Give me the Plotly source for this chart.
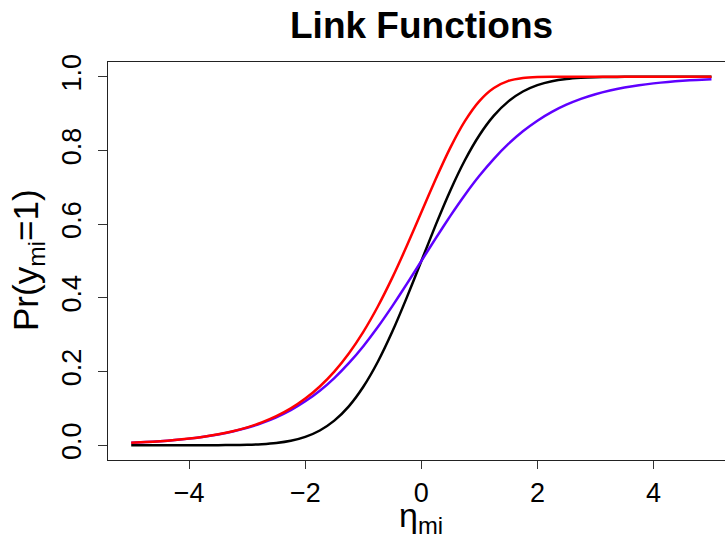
import plotly.graph_objects as go

# linear predictor grid
eta = [-5.0, -4.75, -4.5, -4.25, -4.0, -3.75, -3.5, -3.25, -3.0, -2.75,
       -2.5, -2.25, -2.0, -1.75, -1.5, -1.25, -1.0, -0.75, -0.5, -0.25,
       0.0, 0.25, 0.5, 0.75, 1.0, 1.25, 1.5, 1.75, 2.0, 2.25,
       2.5, 2.75, 3.0, 3.25, 3.5, 3.75, 4.0, 4.25, 4.5, 4.75, 5.0]

# probit link (black)
probit = [0.0000, 0.0000, 0.0000, 0.0000, 0.0000, 0.0001, 0.0002, 0.0006, 0.0013, 0.0030,
          0.0062, 0.0122, 0.0228, 0.0401, 0.0668, 0.1056, 0.1587, 0.2266, 0.3085, 0.4013,
          0.5000, 0.5987, 0.6915, 0.7734, 0.8413, 0.8944, 0.9332, 0.9599, 0.9772, 0.9878,
          0.9938, 0.9970, 0.9987, 0.9994, 0.9998, 0.9999, 1.0000, 1.0000, 1.0000, 1.0000, 1.0000]

# logit link (blue)
logit = [0.0067, 0.0086, 0.0110, 0.0141, 0.0180, 0.0230, 0.0293, 0.0373, 0.0474, 0.0601,
         0.0759, 0.0953, 0.1192, 0.1480, 0.1824, 0.2227, 0.2689, 0.3208, 0.3775, 0.4378,
         0.5000, 0.5622, 0.6225, 0.6792, 0.7311, 0.7773, 0.8176, 0.8520, 0.8808, 0.9047,
         0.9241, 0.9399, 0.9526, 0.9627, 0.9707, 0.9770, 0.9820, 0.9859, 0.9890, 0.9914, 0.9933]

# complementary log-log link (red)
cloglog = [0.0067, 0.0086, 0.0110, 0.0142, 0.0182, 0.0232, 0.0297, 0.0380, 0.0486, 0.0619,
           0.0788, 0.1000, 0.1266, 0.1595, 0.2000, 0.2491, 0.3078, 0.3765, 0.4548, 0.5411,
           0.6321, 0.7231, 0.8077, 0.8796, 0.9340, 0.9695, 0.9887, 0.9968, 0.9994, 0.9999,
           1.0000, 1.0000, 1.0000, 1.0000, 1.0000, 1.0000, 1.0000, 1.0000, 1.0000, 1.0000, 1.0000]

x_ticks = [-4, -2, 0, 2, 4]
y_ticks = [0.0, 0.2, 0.4, 0.6, 0.8, 1.0]
y_tick_text = ["0.0", "0.2", "0.4", "0.6", "0.8", "1.0"]

FONT = "Liberation Sans, Arial, sans-serif"
W, H = 725, 536
M_L, M_R, M_T, M_B = 108, 0, 62, 76

fig = go.Figure()
for ys, col in [(probit, "#000000"), (logit, "#5f00ff"), (cloglog, "#ff0000")]:
    fig.add_trace(go.Scatter(
        x=eta, y=ys, mode="lines",
        line=dict(color=col, width=2.5, shape="spline", smoothing=0.6),
        hoverinfo="skip", showlegend=False,
    ))

fig.update_layout(
    width=W, height=H,
    margin=dict(l=M_L, r=M_R, t=M_T, b=M_B),
    paper_bgcolor="white", plot_bgcolor="white",
    font=dict(family=FONT, color="black"),
    xaxis=dict(
        range=[-5.4, 5.233], tickmode="array", tickvals=x_ticks,
        ticks="outside", ticklen=8, tickwidth=1, tickcolor="#333333",
        tickfont=dict(size=27, family=FONT), ticklabelstandoff=1,
        showline=True, linecolor="#222222", linewidth=1, mirror=True,
        showgrid=False, zeroline=False,
    ),
    yaxis=dict(
        range=[-0.04, 1.04], tickmode="array", tickvals=y_ticks, ticktext=y_tick_text,
        ticks="outside", ticklen=9, tickwidth=1, tickcolor="#333333",
        tickfont=dict(size=27, family=FONT), tickangle=-90, ticklabelstandoff=6,
        showline=True, linecolor="#222222", linewidth=1, mirror=False,
        showgrid=False, zeroline=False,
    ),
)

# title and axis labels placed in pixel terms relative to the plot area
plot_h = H - M_T - M_B
plot_w = W - M_L - M_R

def py(px):
    return (H - M_B - px) / plot_h

def px_x(px):
    return (px - M_L) / plot_w

fig.add_annotation(
    text="<b>Link Functions</b>", x=0, xref="x", y=py(25), yref="paper",
    yanchor="middle", xanchor="center", showarrow=False,
    font=dict(size=37, family=FONT, color="black"),
)
fig.add_annotation(
    text="η<sub>mi</sub>", x=0, xref="x", y=py(517), yref="paper",
    yanchor="middle", xanchor="center", showarrow=False,
    font=dict(size=34, family=FONT, color="black"),
)
fig.add_annotation(
    text="Pr(y<sub>mi</sub>=1)", x=px_x(28), xref="paper", y=py(260), yref="paper",
    yanchor="middle", xanchor="center", textangle=-90, showarrow=False,
    font=dict(size=35, family=FONT, color="black"),
)

fig.write_html("out.html")
